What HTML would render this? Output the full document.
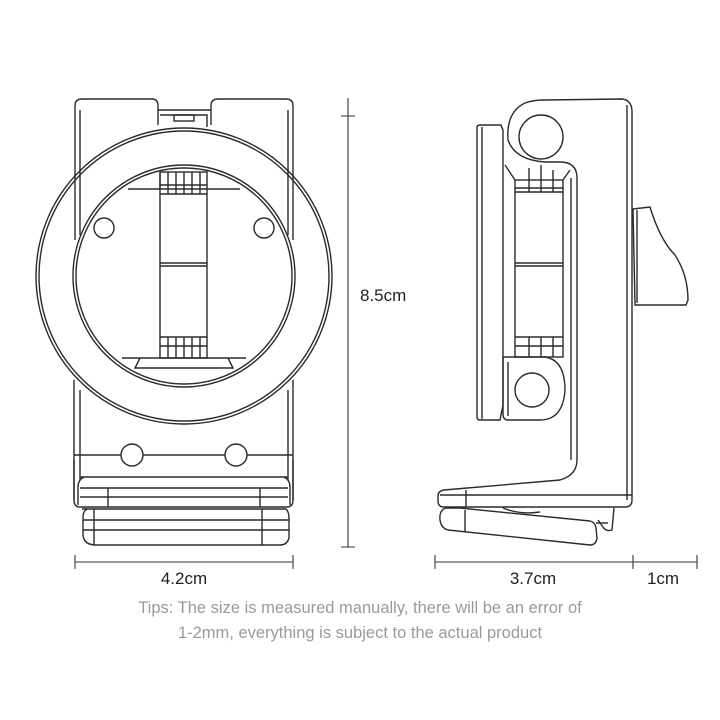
<!DOCTYPE html>
<html><head><meta charset="utf-8"><style>
html,body{margin:0;padding:0;background:#fff;}
svg{display:block;}
text{font-family:"Liberation Sans",sans-serif;}
</style></head><body>
<svg width="720" height="720" viewBox="0 0 720 720" xmlns="http://www.w3.org/2000/svg">
<g fill="none" stroke="#2a2a2a" stroke-width="1.4">
<!-- LEFT VIEW -->
<!-- top tabs -->
<path d="M75,240 V106 Q75,99 82,99 H152 Q158,99 158,106 V125"/>
<path d="M211,125 V106 Q211,99 218,99 H286 Q293,99 293,106 V240"/>
<path d="M80,110 V235 M288,110 V235"/>
<path d="M158,110 H211 M160,115 H207 V127"/>
<rect x="174" y="115" width="20" height="6"/>
<!-- body sides -->
<path d="M74,380 V500 M293,380 V500 M80,390 V480 M288,390 V480"/>
<!-- ring -->
<circle cx="184" cy="276" r="148"/>
<circle cx="184" cy="276" r="145"/>
<circle cx="184" cy="276" r="111"/>
<circle cx="184" cy="276" r="108"/>
<!-- inner holes -->
<circle cx="104" cy="228" r="10"/>
<circle cx="264" cy="228" r="10"/>
<!-- strip -->
<path d="M128,189 H240 M122,358 H246"/>
<rect x="160" y="172" width="47" height="186"/>
<path d="M160,263 H207 M160,266 H207"/>
<path d="M160,189 V172 M168,172 V194 M176,172 V194 M184,172 V194 M192,172 V194 M200,172 V194 M160,194 H207 M160,185 H207"/>
<path d="M168,337 V358 M176,337 V358 M184,337 V358 M192,337 V358 M200,337 V358 M160,337 H207 M160,346 H207"/>
<path d="M140,358 L135,368 H233 L228,358"/>
<!-- lower body -->
<path d="M74,455 H293"/>
<circle cx="132" cy="455" r="11" fill="#fff"/>
<circle cx="236" cy="455" r="11" fill="#fff"/>
<path d="M74,460 V500 Q74,507 80,507 H287 Q293,507 293,500 V460"/>
<path d="M80,477 H288 M84,477 Q78,480 78,487 V505 M284,477 Q290,480 290,487 V505"/>
<path d="M80,488 H288 M80,497 H288 M108,488 V507 M260,488 V507"/>
<path d="M82,509 H286 Q289,512 289,518 V538 Q287,545 280,545 H96 Q84,545 83,535 V518 Q83,510 88,509"/>
<path d="M83,520 H289 M83,530 H289 M94,509 V545 M262,509 V545"/>

<!-- RIGHT VIEW -->
<!-- left plate -->
<path d="M477,128 Q477,125 480,125 H501 L503,130 V405 L500,420 H480 Q477,420 477,417 Z"/>
<path d="M482,127 V419"/>
<!-- main L body -->
<path d="M544,100 L622,99 Q632,100 632,112 V500 Q632,507 625,507 H444 Q438,507 438,501 V496 Q438,491 444,490 L560,480 Q577,475 577,460 V178 Q577,162 560,162 H545 Q515,160 508,140 Q506,112 525,103 Q533,100 544,100 Z"/>
<path d="M627,105 V500 M466,490 V507 M440,495 H632"/>
<path d="M571,178 V460"/>
<circle cx="541" cy="137" r="22"/>
<!-- inner strip -->
<rect x="515" y="180" width="48" height="177"/>
<path d="M515,263 H563 M515,266 H563"/>
<path d="M515,192 H563 M515,188 H563 M529,168 V192 M541,165 V192 M553,170 V192"/>
<path d="M515,337 H563 M515,346 H563 M529,337 V357 M541,337 V357 M553,337 V357"/>
<path d="M505,165 L515,180 M570,170 L563,180"/>
<!-- bottom housing -->
<path d="M503,357 H545 Q565,360 565,390 Q563,420 540,420 H508 Q503,420 503,414 Z"/>
<path d="M508,362 V416"/>
<circle cx="532" cy="390" r="17"/>
<!-- knob -->
<path d="M633,209 L650,207 Q660,240 675,255 Q688,275 688,300 L686,305 H635 Z"/>
<path d="M637,210 V303"/>
<!-- lower tilted piece -->
<path d="M446,508 Q439,510 440,520 Q441,528 448,530 L590,545 Q596,545 597,538 L596,528 Q595,522 590,521 L460,508 Z"/>
<path d="M465,510 V532"/>
<path d="M503,508 Q520,515 540,512"/>
<path d="M598,520 L603,527 Q606,532 612,530 L614,508"/>
<path d="M596,523 H608"/>
</g>

<!-- dimension lines -->
<g stroke="#333" stroke-width="1.1" fill="none">
<path d="M348,98 V547 M341,116 H355 M341,547 H355"/>
<path d="M75,562 H293 M75,555 V569 M293,555 V569"/>
<path d="M435,562 H697 M435,555 V569 M633,555 V569 M697,555 V569"/>
</g>
<g font-size="17" fill="#222">
<text x="360" y="301">8.5cm</text>
<text x="184" y="584" text-anchor="middle">4.2cm</text>
<text x="533" y="584" text-anchor="middle">3.7cm</text>
<text x="663" y="584" text-anchor="middle">1cm</text>
</g>
<g font-size="16.5" fill="#9a9a9a" text-anchor="middle">
<text x="360" y="613">Tips: The size is measured manually, there will be an error of</text>
<text x="360" y="638">1-2mm, everything is subject to the actual product</text>
</g>
</svg>
</body></html>
